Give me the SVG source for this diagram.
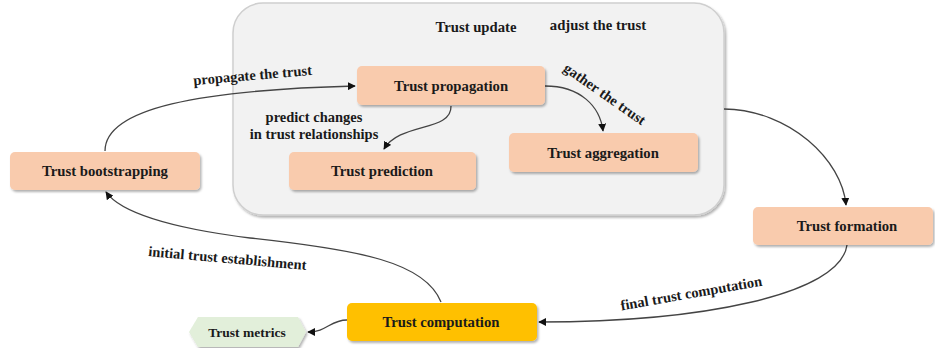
<svg xmlns="http://www.w3.org/2000/svg" width="935" height="348" viewBox="0 0 935 348">
<defs>
<marker id="arr" viewBox="0 0 10 10" refX="9" refY="5" markerWidth="8" markerHeight="8" orient="auto" markerUnits="userSpaceOnUse"><path d="M0,0 L10,5 L0,10 z" fill="#111"/></marker>
<filter id="sh" x="-10%" y="-10%" width="120%" height="130%"><feDropShadow dx="1.5" dy="2" stdDeviation="1.2" flood-color="#000" flood-opacity="0.3"/></filter>
<style>
.n{fill:#f9cbad;filter:url(#sh)}
.t{font-family:"Liberation Serif",serif;font-weight:bold;font-size:14.7px;fill:#1a1a1a;text-anchor:middle;dominant-baseline:central}
.l{font-family:"Liberation Serif",serif;font-weight:bold;font-size:14.5px;fill:#1a1a1a;text-anchor:middle}
.c{fill:none;stroke:#444;stroke-width:1.3;marker-end:url(#arr)}
</style>
</defs>
<rect width="935" height="348" fill="#fff"/>
<g id="trust-update">
<rect x="233" y="3" width="491" height="212" rx="30" fill="#f2f2f2" stroke="#cfcfcf" stroke-width="1.5" filter="url(#sh)"/>
<text class="t" x="476" y="27">Trust update</text>
<text class="t" x="598" y="25">adjust the trust</text>
</g>
<g id="connectors">
<path class="c" d="M105,151 C105,108 200,90 355,86"/>
<path class="c" d="M451,106 C452,132 400,122 384,149"/>
<path class="c" d="M545,86 C580,86 600,106 603,131"/>
<path class="c" d="M724,109 C790,110 842,160 846,205"/>
<path class="c" d="M847,245 C840,295 700,322 539,322"/>
<path class="c" d="M441,302 C425,262 360,250 250,238 C170,228 120,212 106,192"/>
<path class="c" d="M347,320 C330,320 327,332 308,332"/>
<text class="l" transform="translate(253,80) rotate(-5)">propagate the trust</text>
<text class="l" x="314" y="122">predict changes</text>
<text class="l" x="314" y="139">in trust relationships</text>
<text class="l" transform="translate(602,98) rotate(35)">gather the trust</text>
<text class="l" transform="translate(227,263) rotate(5)">initial trust establishment</text>
<text class="l" transform="translate(692,298) rotate(-10)">final trust computation</text>
</g>
<g id="trust-propagation"><rect class="n" x="357" y="66" width="188" height="39" rx="5"/><text class="t" x="451" y="86">Trust propagation</text></g>
<g id="trust-prediction"><rect class="n" x="289" y="152" width="187" height="38" rx="5"/><text class="t" x="382" y="171">Trust prediction</text></g>
<g id="trust-aggregation"><rect class="n" x="509" y="133" width="189" height="39" rx="5"/><text class="t" x="603" y="153">Trust aggregation</text></g>
<g id="trust-bootstrapping"><rect class="n" x="10" y="152" width="190" height="38" rx="5"/><text class="t" x="105" y="171">Trust bootstrapping</text></g>
<g id="trust-formation"><rect class="n" x="753" y="207" width="180" height="38" rx="5"/><text class="t" x="847" y="226">Trust formation</text></g>
<g id="trust-computation"><rect x="347" y="303" width="190" height="38" rx="5" fill="#ffc000" filter="url(#sh)"/><text class="t" x="441" y="322">Trust computation</text></g>
<g id="trust-metrics"><polygon points="198,317 298,317 306,332 298,347 198,347 189,332" fill="#e2efda" filter="url(#sh)"/><text class="t" x="247" y="332" style="font-size:13.5px">Trust metrics</text></g>
</svg>
